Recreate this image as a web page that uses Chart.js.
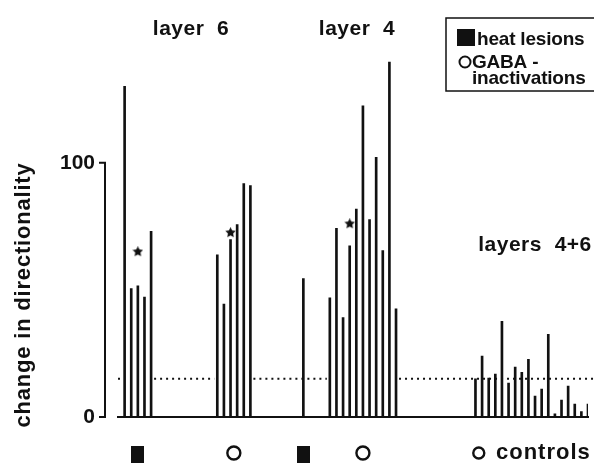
<!DOCTYPE html>
<html>
<head>
<meta charset="utf-8">
<script src="https://cdn.jsdelivr.net/npm/chart.js@4.4.1/dist/chart.umd.min.js"></script>
<style>
  html, body { margin: 0; padding: 0; background: #fff; }
  #wrap { width: 594px; height: 464px; position: relative; }
</style>
</head>
<body>
<div id="wrap"><canvas id="chart"></canvas></div>
<script>
// change in directionality for each cell, one array per condition
const layer6Heat = [130, 50.5, 51.6, 47.2, 73];
const layer6Gaba = [63.8, 44.4, 69.8, 75.7, 91.8, 91];
const layer4Heat = [54.4];
const layer4Gaba = [46.9, 74.2, 39.1, 67.3, 81.8, 122.4, 77.6, 102.1, 65.5, 139.6, 42.5];
const controls = [15, 24, 15.3, 16.9, 37.6, 13.3, 19.6, 17.6, 22.7, 8.2, 11, 32.5, 1.2, 6.7, 12.2, 5.1, 2.1, 5.1];

// starred cells: which group, which bar in it, height of the star
const starGroups = [0, 1, 3];
const starBars = [2, 2, 3];
const starLevels = [65, 72.5, 76];

const controlLevel = 15;      // dotted line
const yTickValues = [0, 100];

// x layout: one slot per bar, empty slots between the groups
const groupStart = [1, 15, 28, 32, 54];
const slotCount = 72;

const FONT = '"Liberation Sans", Arial, Helvetica, sans-serif';
const INK = '#111';

const groups = [
    { name: 'layer 6 heat', values: layer6Heat, marker: 'square', hideDots: true },
    { name: 'layer 6 GABA', values: layer6Gaba, marker: 'circle', hideDots: true },
    { name: 'layer 4 heat', values: layer4Heat, marker: 'square', hideDots: false },
    { name: 'layer 4 GABA', values: layer4Gaba, marker: 'circle', hideDots: true },
    { name: 'controls', values: controls, marker: 'circle', hideDots: false }
];
groups.forEach((g, i) => { g.start = groupStart[i]; });

// category labels (not shown) and the padded data
const slotLabels = new Array(slotCount).fill('');
groups.forEach(g => g.values.forEach((v, i) => { slotLabels[g.start + i] = g.name + ' ' + (i + 1); }));

const barSets = groups.map(g => {
    const data = new Array(slotCount).fill(null);
    g.values.forEach((v, i) => { data[g.start + i] = v; });
    return {
        type: 'bar',
        label: g.name,
        data: data,
        backgroundColor: INK,
        barThickness: 2,
        grouped: false
    };
});

const starData = new Array(slotCount).fill(null);
starGroups.forEach((gi, k) => { starData[groups[gi].start + starBars[k]] = starLevels[k]; });

function makeStar(size) {
    const c = document.createElement('canvas');
    c.width = c.height = size;
    const g = c.getContext('2d');
    const r = size / 2, ri = r * 0.5;
    g.beginPath();
    for (let k = 0; k < 10; k++) {
        const a = -Math.PI / 2 + k * Math.PI / 5;
        const rr = k % 2 ? ri : r;
        g.lineTo(r + rr * Math.cos(a), r + rr * Math.sin(a));
    }
    g.closePath();
    g.fillStyle = INK;
    g.fill();
    return c;
}

function drawText(ctx, str, x, y, size, align, spacing) {
    ctx.font = 'bold ' + size + 'px ' + FONT;
    ctx.textAlign = align || 'left';
    ctx.textBaseline = 'alphabetic';
    ctx.letterSpacing = (spacing || 0) + 'px';
    ctx.fillText(str, x, y);
    ctx.letterSpacing = '0px';
}

const decor = {
    id: 'decor',
    beforeDatasetsDraw(chart) {
        const { ctx, chartArea, scales: { x, y } } = chart;
        const yy = y.getPixelForValue(controlLevel);
        const masks = groups.filter(g => g.hideDots).map(g => [
            x.getPixelForValue(g.start) - 3,
            x.getPixelForValue(g.start + g.values.length - 1) + 3
        ]);
        ctx.save();
        ctx.strokeStyle = INK;
        ctx.lineWidth = 2;
        ctx.setLineDash([2, 4]);
        let cur = chartArea.left;
        const segs = [];
        masks.forEach(m => { segs.push([cur, m[0]]); cur = m[1]; });
        segs.push([cur, chart.width]);
        ctx.beginPath();
        segs.forEach(s => { ctx.moveTo(s[0], yy); ctx.lineTo(s[1], yy); });
        ctx.stroke();
        ctx.restore();
    },
    afterDraw(chart) {
        const { ctx, chartArea, scales: { x, y } } = chart;
        ctx.save();
        ctx.fillStyle = INK;
        ctx.strokeStyle = INK;

        // y axis: only spans 0..100
        const ax = chartArea.left - 13;
        const y0 = y.getPixelForValue(yTickValues[0]);
        const y1 = y.getPixelForValue(yTickValues[1]);
        ctx.lineWidth = 2;
        ctx.beginPath();
        ctx.moveTo(ax - 6, y1); ctx.lineTo(ax, y1); ctx.lineTo(ax, y0); ctx.lineTo(ax - 6, y0);
        ctx.stroke();

        // condition markers under each group
        const my = 454;
        groups.forEach(g => {
            const mid = g.name === 'controls'
                ? x.getPixelForValue(g.start + 0.5)
                : x.getPixelForValue(g.start + (g.values.length - 1) / 2);
            if (g.marker === 'square') {
                ctx.fillRect(Math.round(mid - 6.5), my - 8, 13, 17);
            } else {
                ctx.lineWidth = 2.4;
                ctx.beginPath();
                ctx.arc(mid, my - 1, g.name === 'controls' ? 5.5 : 6.5, 0, Math.PI * 2);
                ctx.stroke();
            }
        });
        drawText(ctx, 'controls', 496, 459, 22, 'left', 1);

        // group titles
        drawText(ctx, 'layer  6', 191, 35, 21, 'center', 0.5);
        drawText(ctx, 'layer  4', 357, 35, 21, 'center', 0.5);
        drawText(ctx, 'layers  4+6', 535, 251, 21, 'center', 0.5);

        // y title
        ctx.save();
        ctx.translate(30, 295);
        ctx.rotate(-Math.PI / 2);
        drawText(ctx, 'change in directionality', 0, 0, 22, 'center', 0.8);
        ctx.restore();

        // legend box
        ctx.lineWidth = 1.5;
        ctx.strokeRect(446, 18, 150, 73);
        ctx.fillRect(457, 29, 18, 17);
        drawText(ctx, 'heat lesions', 477, 45, 19, 'left', -0.2);
        ctx.lineWidth = 2;
        ctx.beginPath();
        ctx.arc(465, 62, 5.5, 0, Math.PI * 2);
        ctx.stroke();
        drawText(ctx, 'GABA -', 472, 68, 19, 'left', -0.2);
        drawText(ctx, 'inactivations', 472, 84, 19, 'left', -0.2);

        ctx.restore();
    }
};

new Chart(document.getElementById('chart'), {
    type: 'bar',
    data: {
        labels: slotLabels,
        datasets: barSets.concat([{
            type: 'line',
            label: 'starred',
            data: starData,
            showLine: false,
            pointStyle: makeStar(11),
            pointRadius: 5,
            borderColor: INK,
            backgroundColor: INK
        }])
    },
    options: {
        responsive: true,
        maintainAspectRatio: false,
        animation: false,
        devicePixelRatio: 1,
        layout: { padding: { top: 34.5, right: 1.4, left: 0, bottom: 0 } },
        plugins: {
            legend: { display: false },
            tooltip: { enabled: false }
        },
        scales: {
            x: {
                type: 'category',
                offset: false,
                grid: { display: false, drawTicks: false },
                ticks: { display: false },
                border: { display: true, color: INK, width: 2 },
                afterFit: function(scale) { scale.height = 47; }
            },
            y: {
                min: 0,
                max: 150,
                grid: { display: false, drawTicks: false },
                border: { display: false },
                ticks: {
                    padding: 23,
                    color: INK,
                    font: { family: FONT, size: 21, weight: 'bold' }
                },
                afterBuildTicks: function(scale) {
                    scale.ticks = yTickValues.map(v => ({ value: v }));
                },
                afterFit: function(scale) { scale.width = 118; }
            }
        }
    },
    plugins: [decor]
});
</script>
</body>
</html>
